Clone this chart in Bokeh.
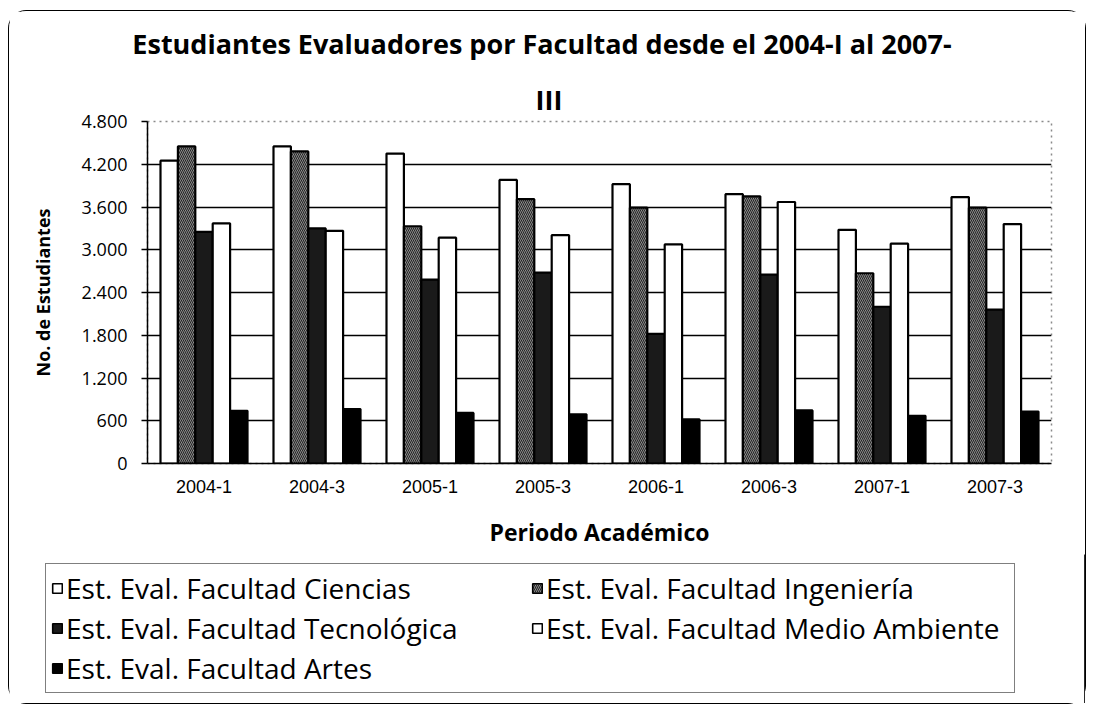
from bokeh.plotting import figure
from bokeh.layouts import column
from bokeh.models import (ColumnDataSource, FactorRange, Range1d, FixedTicker,
                          Legend, LegendItem, Title)
from bokeh.transform import dodge
from bokeh.embed import file_html
from bokeh.resources import INLINE

periods = ["2004-1", "2004-3", "2005-1", "2005-3", "2006-1", "2006-3", "2007-1", "2007-3"]
ciencias = [4250, 4450, 4350, 3980, 3920, 3780, 3280, 3740]
ingenieria = [4450, 4380, 3330, 3710, 3590, 3750, 2670, 3590]
tecnologica = [3250, 3300, 2580, 2680, 1820, 2650, 2200, 2160]
medio_ambiente = [3370, 3265, 3170, 3205, 3075, 3670, 3085, 3360]
artes = [740, 765, 710, 690, 620, 745, 670, 730]

series_names = ["Est. Eval. Facultad Ciencias", "Est. Eval. Facultad Ingeniería",
                "Est. Eval. Facultad Tecnológica", "Est. Eval. Facultad Medio Ambiente",
                "Est. Eval. Facultad Artes"]
y_ticks = [0, 600, 1200, 1800, 2400, 3000, 3600, 4200, 4800]
y_tick_labels = ["0", "600", "1.200", "1.800", "2.400", "3.000", "3.600", "4.200", "4.800"]

title_line1 = "Estudiantes Evaluadores por Facultad desde el 2004-I al 2007-"
title_line2 = "III"
x_title = "Periodo Académico"
y_title = "No. de Estudiantes"

FONT = "Open Sans"
W = 1076

# ---------------- title strip (first line) ----------------
p0 = figure(width=W, height=64, output_backend="svg", toolbar_location=None,
            x_axis_type=None, y_axis_type=None, x_range=Range1d(0, 1), y_range=Range1d(0, 1),
            min_border_left=0, min_border_right=11, min_border_top=0, min_border_bottom=0,
            frame_align=False)
p0.outline_line_color = None
p0.xgrid.grid_line_color = None
p0.ygrid.grid_line_color = None
t1 = Title(text=title_line1, align="center", text_font=FONT, text_font_style="bold",
           text_font_size="27px", text_color="black", standoff=22)
p0.add_layout(t1, "above")

# ---------------- main chart ----------------
src = ColumnDataSource(dict(period=periods, c=ciencias, i=ingenieria, t=tecnologica,
                            m=medio_ambiente, a=artes))

p = figure(x_range=FactorRange(factors=periods), y_range=Range1d(0, 4800),
           width=W, height=479, output_backend="svg", toolbar_location=None,
           min_border_left=138, min_border_right=34, min_border_top=46,
           min_border_bottom=91, background_fill_color="white",
           border_fill_color="white", frame_align=False)

t2 = Title(text=title_line2, align="left", offset=388, text_font=FONT,
           text_font_style="bold", text_font_size="27px", text_color="black", standoff=7)
p.add_layout(t2, "above")

bw = 0.154
offsets = [-2 * bw, -bw, 0, bw, 2 * bw]
cols = ["c", "i", "t", "m", "a"]
styles = [
    dict(fill_color="white"),
    dict(fill_color="#a4a4a4", hatch_pattern="left_diagonal_line", hatch_color="#222222",
         hatch_scale=4, hatch_weight=1.1),
    dict(fill_color="#1a1a1a"),
    dict(fill_color="white"),
    dict(fill_color="black"),
]
for col, off, st in zip(cols, offsets, styles):
    p.vbar(x=dodge("period", off, range=p.x_range), top=col, width=bw, source=src,
           line_color="black", line_width=2.2, **st)

p.xgrid.grid_line_color = None
p.ygrid.ticker = FixedTicker(ticks=y_ticks[1:-1])
p.ygrid.grid_line_color = "black"
p.ygrid.grid_line_width = 1.3
p.outline_line_color = "#8a8a8a"
p.outline_line_dash = "dotted"
p.outline_line_width = 1.5

p.yaxis.ticker = FixedTicker(ticks=y_ticks)
p.yaxis.major_label_overrides = {v: s for v, s in zip(y_ticks, y_tick_labels)}
p.yaxis.major_label_text_font = FONT
p.yaxis.major_label_text_font_size = "18px"
p.yaxis.major_label_text_color = "black"
p.yaxis.major_tick_out = 6
p.yaxis.major_tick_in = 0
p.yaxis.minor_tick_line_color = None
p.yaxis.major_label_standoff = 14
p.yaxis.axis_line_color = "black"
p.yaxis.axis_line_width = 1.5
p.yaxis.major_tick_line_width = 1.5
p.yaxis.axis_label = y_title
p.yaxis.axis_label_text_font = FONT
p.yaxis.axis_label_text_font_style = "bold"
p.yaxis.axis_label_text_font_size = "18px"
p.yaxis.axis_label_text_color = "black"
p.yaxis.axis_label_standoff = 24

p.xaxis.major_label_text_font = "Liberation Sans"
p.xaxis.major_label_text_font_size = "18px"
p.xaxis.major_label_text_color = "black"
p.xaxis.major_tick_line_color = None
p.xaxis.major_tick_out = 0
p.xaxis.major_label_standoff = 16
p.xaxis.axis_line_color = "black"
p.xaxis.axis_line_width = 1.5
p.xaxis.axis_label = x_title
p.xaxis.axis_label_text_font = FONT
p.xaxis.axis_label_text_font_style = "bold"
p.xaxis.axis_label_text_font_size = "23px"
p.xaxis.axis_label_text_color = "black"
p.xaxis.axis_label_standoff = 20

# ---------------- legend strip ----------------
lsrc = ColumnDataSource(dict(x=[10.0], top=[10.0]))
p2 = figure(width=W, height=149, output_backend="svg", toolbar_location=None,
            x_axis_type=None, y_axis_type=None, x_range=Range1d(0, 1), y_range=Range1d(0, 1),
            min_border=0, frame_align=False)
p2.outline_line_color = None
p2.xgrid.grid_line_color = None
p2.ygrid.grid_line_color = None
lrs = []
for st in styles:
    lrs.append(p2.vbar(x="x", top="top", width=0.1, source=lsrc, line_color="black",
                       line_width=1.6, **st))
items = [LegendItem(label=n, renderers=[r]) for n, r in zip(series_names, lrs)]
legend = Legend(items=items, location=(36, 10), ncols=2, orientation="horizontal",
                label_text_font=FONT, label_text_font_size="28px", label_text_color="black",
                label_text_line_height=1.0,
                glyph_width=12, glyph_height=12, label_height=30, label_width=463,
                label_standoff=3, spacing=2, padding=5, margin=0,
                border_line_color="black", border_line_width=1.2,
                background_fill_color="white", background_fill_alpha=1)
p2.add_layout(legend)

layout = column(p0, p, p2, spacing=0)
layout.styles = {"margin": "10px 0px 0px 8px", "border": "1.5px solid black",
                 "border-radius": "18px", "background-color": "white"}

open("out.html", "w").write(file_html(layout, INLINE))
